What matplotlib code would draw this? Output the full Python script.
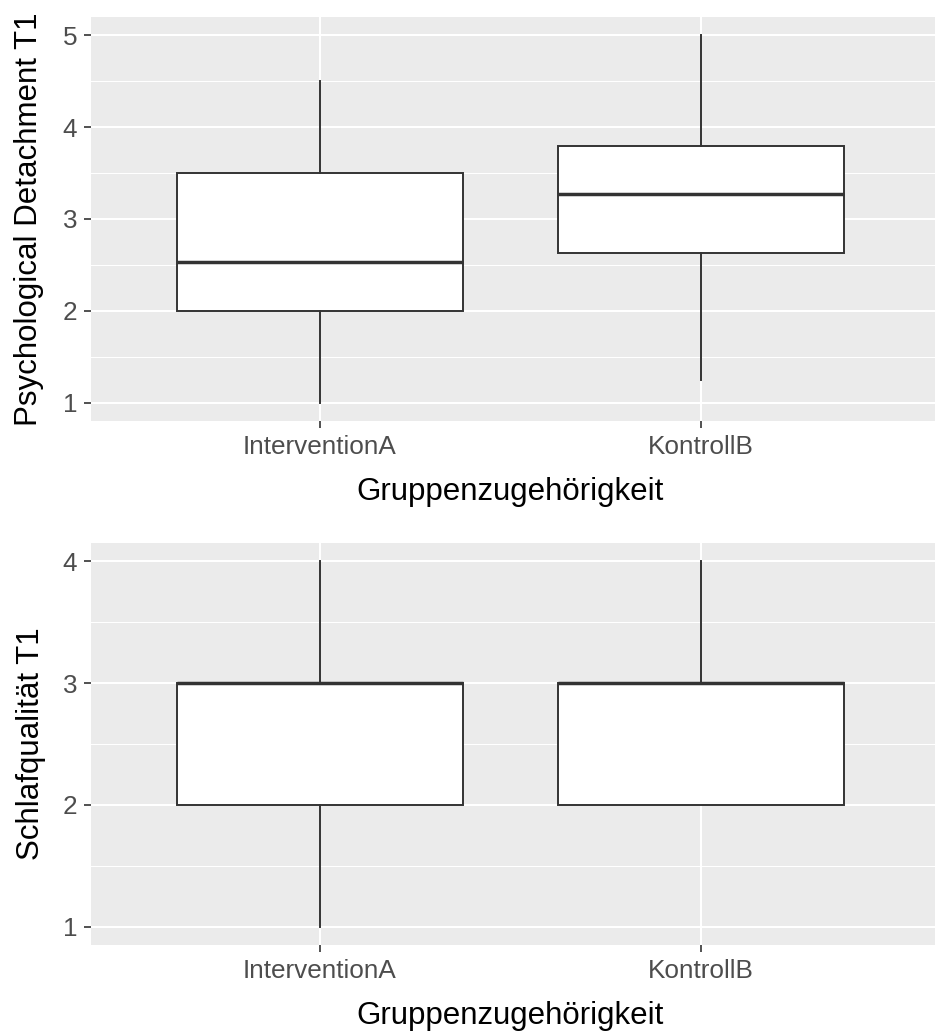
import matplotlib
matplotlib.use("Agg")
import matplotlib.pyplot as plt
from matplotlib.ticker import MultipleLocator, FixedLocator

plt.rcParams["font.family"] = ["Liberation Sans", "DejaVu Sans"]

groups = ["InterventionA", "KontrollB"]
x_title = "Gruppenzugehörigkeit"

# Psychological Detachment T1 (Boxplot-Kennwerte)
pd_low = [1.0, 1.25]
pd_q1 = [2.0, 2.63]
pd_med = [2.53, 3.27]
pd_q3 = [3.5, 3.8]
pd_high = [4.5, 5.0]

# Schlafqualität T1
sq_low = [1.0, 2.0]
sq_q1 = [2.0, 2.0]
sq_med = [3.0, 3.0]
sq_q3 = [3.0, 3.0]
sq_high = [4.0, 4.0]

BG = "#EBEBEB"
DARK = "#333333"
TICK_TXT = "#4D4D4D"


def make_stats(low, q1, med, q3, high):
    return [
        {"whislo": lo, "q1": a, "med": m, "q3": b, "whishi": hi, "fliers": []}
        for lo, a, m, b, hi in zip(low, q1, med, q3, high)
    ]


def draw_panel(ax, stats, ylabel, ylim, yticks, ylabel_x):
    ax.set_facecolor(BG)
    ax.set_axisbelow(True)
    ax.bxp(
        stats,
        positions=[1, 2],
        widths=0.75,
        patch_artist=True,
        showcaps=False,
        showfliers=False,
        boxprops=dict(facecolor="white", edgecolor=DARK, linewidth=1.4),
        whiskerprops=dict(color=DARK, linewidth=1.4),
        medianprops=dict(color=DARK, linewidth=2.5, solid_capstyle="butt"),
    )
    ax.set_xlim(0.4, 2.615)
    ax.set_ylim(*ylim)
    ax.set_xticks([1, 2])
    ax.set_xticklabels(groups)
    ax.yaxis.set_major_locator(FixedLocator(yticks))
    ax.yaxis.set_minor_locator(MultipleLocator(0.5))
    ax.grid(which="major", color="white", linewidth=1.5)
    ax.grid(which="minor", axis="y", color="white", linewidth=0.75)
    for s in ax.spines.values():
        s.set_visible(False)
    ax.tick_params(which="major", length=5, width=1.2, color=DARK,
                   labelsize=18.8, labelcolor=TICK_TXT, pad=5)
    ax.tick_params(which="minor", length=0)
    ax.set_xlabel(x_title, fontsize=22.5, color="black")
    ax.set_ylabel(ylabel, fontsize=22.5, color="black")
    ax.xaxis.set_label_coords(0.4964, -0.176)
    ax.xaxis.label.set_va("center")
    ax.yaxis.set_label_coords(ylabel_x, 0.5)
    ax.yaxis.label.set_va("center")


fig = plt.figure(figsize=(9.35, 10.34), dpi=100)
ax1 = fig.add_axes([91 / 935, 1 - 421 / 1034, 844 / 935, 404 / 1034])
ax2 = fig.add_axes([91 / 935, 1 - 945 / 1034, 844 / 935, 402 / 1034])

draw_panel(ax1, make_stats(pd_low, pd_q1, pd_med, pd_q3, pd_high),
           "Psychological Detachment T1", (0.8, 5.2), [1, 2, 3, 4, 5], -0.074)
draw_panel(ax2, make_stats(sq_low, sq_q1, sq_med, sq_q3, sq_high),
           "Schlafqualität T1", (0.85, 4.15), [1, 2, 3, 4], -0.071)

fig.savefig("out.png", dpi=100, facecolor="white")
